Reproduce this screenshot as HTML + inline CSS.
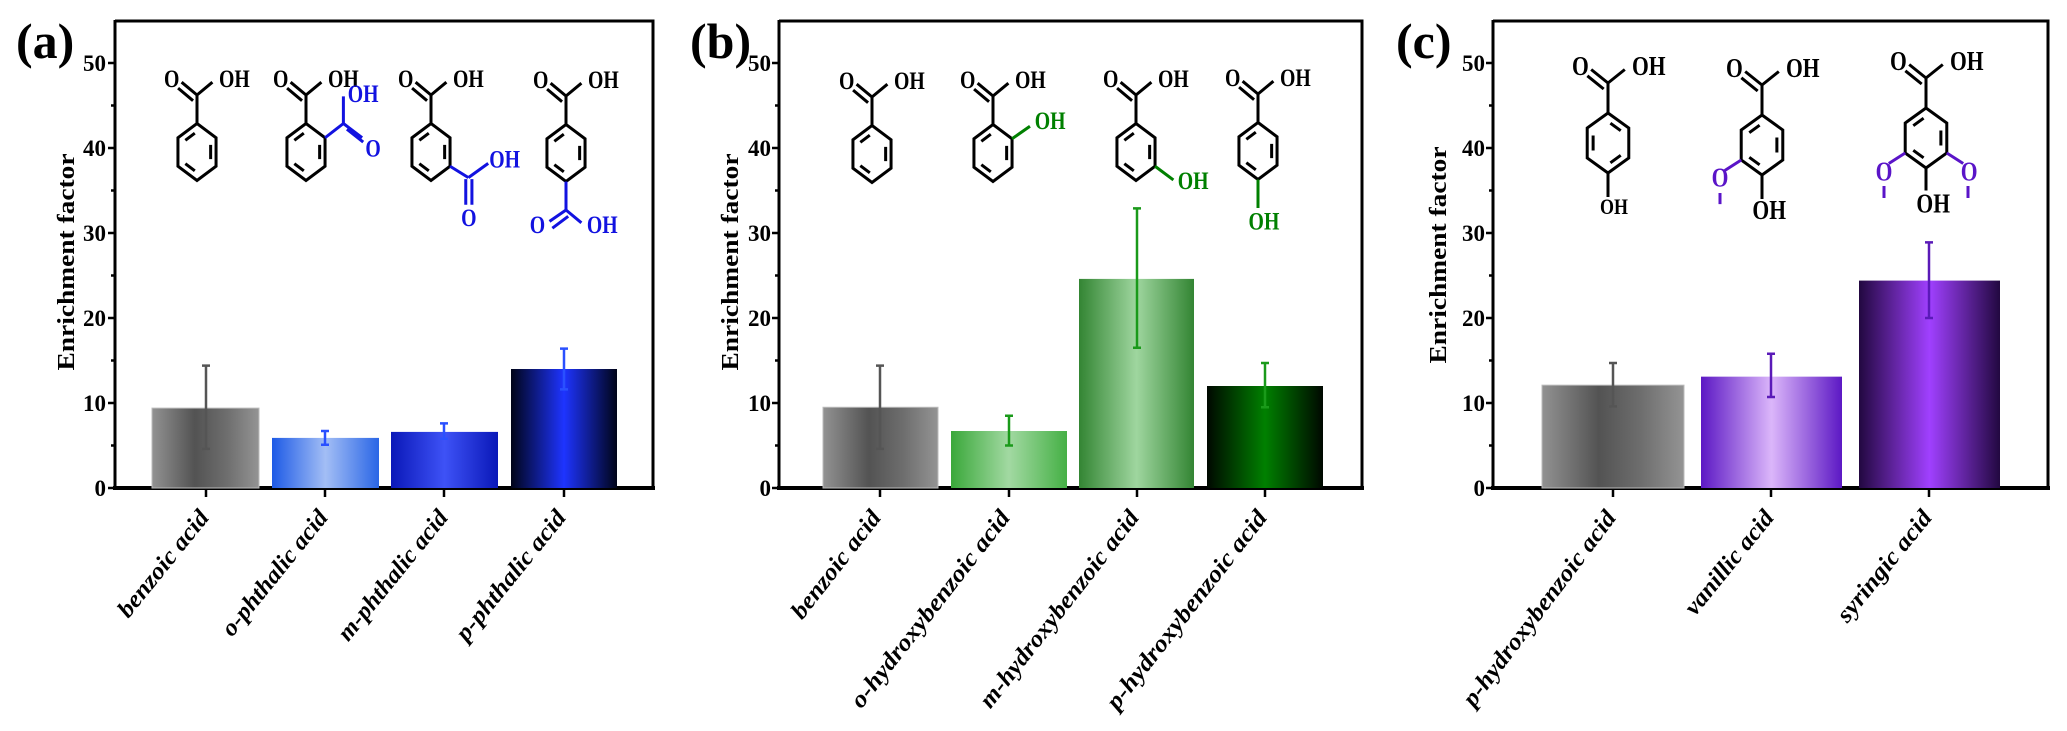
<!DOCTYPE html>
<html><head><meta charset="utf-8"><style>
html,body{margin:0;padding:0;background:#fff;}
svg{display:block;}
.m path,.m line{fill:none;stroke-width:3;vector-effect:non-scaling-stroke;stroke-linejoin:miter;}
.m text{font-family:"Liberation Serif",serif;font-weight:bold;font-size:.9px;text-anchor:middle;}
.ax{stroke:#000;fill:none;}
.tl{font-family:"Liberation Serif",serif;font-weight:bold;font-size:23px;text-anchor:end;}
.yl{font-family:"Liberation Serif",serif;font-weight:bold;font-size:24px;text-anchor:middle;}
.xl{font-family:"Liberation Serif",serif;font-weight:bold;font-style:italic;font-size:24px;text-anchor:end;}
.pl{font-family:"Liberation Serif",serif;font-weight:bold;font-size:50px;}
</style></head><body>
<svg width="2067" height="731" viewBox="0 0 2067 731" xmlns="http://www.w3.org/2000/svg">
<defs>
<linearGradient id="gGray"><stop offset="0" stop-color="#929292"/><stop offset=".4" stop-color="#535353"/><stop offset=".7" stop-color="#6e6e6e"/><stop offset="1" stop-color="#949494"/></linearGradient>
<linearGradient id="gB1"><stop offset="0" stop-color="#1d5ae6"/><stop offset=".5" stop-color="#a3bef5"/><stop offset="1" stop-color="#2a66e6"/></linearGradient>
<linearGradient id="gB2"><stop offset="0" stop-color="#0a18b8"/><stop offset=".5" stop-color="#3e52f6"/><stop offset="1" stop-color="#0a18b8"/></linearGradient>
<linearGradient id="gB3"><stop offset="0" stop-color="#000418"/><stop offset=".5" stop-color="#1e34ff"/><stop offset="1" stop-color="#000418"/></linearGradient>
<linearGradient id="gG1"><stop offset="0" stop-color="#3aa83a"/><stop offset=".5" stop-color="#a2d9a2"/><stop offset="1" stop-color="#45b045"/></linearGradient>
<linearGradient id="gG2"><stop offset="0" stop-color="#338533"/><stop offset=".5" stop-color="#9fd69f"/><stop offset="1" stop-color="#338533"/></linearGradient>
<linearGradient id="gG3"><stop offset="0" stop-color="#000800"/><stop offset=".5" stop-color="#008000"/><stop offset="1" stop-color="#000800"/></linearGradient>
<linearGradient id="gP1"><stop offset="0" stop-color="#5c18c4"/><stop offset=".5" stop-color="#dbb6fa"/><stop offset="1" stop-color="#5c18c4"/></linearGradient>
<linearGradient id="gP2"><stop offset="0" stop-color="#220840"/><stop offset=".5" stop-color="#a040ff"/><stop offset="1" stop-color="#220840"/></linearGradient>
</defs>

<text class="pl" x="16" y="58">(a)</text>
<text class="pl" x="690" y="58">(b)</text>
<text class="pl" x="1396" y="58">(c)</text>

<!-- ===== Panel A axes ===== -->
<g>
<path class="ax" stroke-width="3" d="M115,21 L653,21 L653,488"/>
<path class="ax" stroke-width="3" d="M115,20 L115,490"/>
<path class="ax" stroke-width="4" d="M113,488 L655,488"/>
<path class="ax" stroke-width="2.5" d="M108,63H115M108,148H115M108,233H115M108,318H115M108,403H115M108,488H115M111,105.5H115M111,190.5H115M111,275.5H115M111,360.5H115M111,445.5H115"/>
<g class="tl"><text x="106" y="71">50</text><text x="106" y="156">40</text><text x="106" y="241">30</text><text x="106" y="326">20</text><text x="106" y="411">10</text><text x="106" y="496">0</text></g>
<text class="yl" transform="translate(74,262) rotate(-90)" textLength="217" lengthAdjust="spacingAndGlyphs">Enrichment factor</text>
<path class="ax" stroke-width="2.5" d="M206,488V497M325,488V497M444,488V497M564,488V497"/>
<rect x="152" y="408.1" width="107" height="79.9" fill="url(#gGray)" stroke="#bbb" stroke-width="1"/>
<rect x="272" y="437.9" width="107" height="50.1" fill="url(#gB1)"/>
<rect x="391" y="431.9" width="107" height="56.1" fill="url(#gB2)"/>
<rect x="511" y="369" width="106" height="119" fill="url(#gB3)"/>
<g stroke-width="2.5">
<path stroke="#555" d="M206,365.6V448.9M202,365.6H210M202,448.9H210"/>
<path stroke="#2a50ff" d="M325,431V444.7M321,431H329M321,444.7H329"/>
<path stroke="#2a50ff" d="M444,423.4V438.7M440,423.4H448M440,438.7H448"/>
<path stroke="#2a50ff" d="M564,348.6V389.4M560,348.6H568M560,389.4H568"/>
</g>
<g class="xl">
<text transform="translate(210,518) rotate(-51)" textLength="130" lengthAdjust="spacingAndGlyphs">benzoic acid</text>
<text transform="translate(329,518) rotate(-51)" textLength="154" lengthAdjust="spacingAndGlyphs">o-phthalic acid</text>
<text transform="translate(449,518) rotate(-51)" textLength="160" lengthAdjust="spacingAndGlyphs">m-phthalic acid</text>
<text transform="translate(567,518) rotate(-51)" textLength="160" lengthAdjust="spacingAndGlyphs">p-phthalic acid</text>
</g>
</g>

<!-- ===== Panel B axes ===== -->
<g>
<path class="ax" stroke-width="3" d="M779,21 L1362,21 L1362,488"/>
<path class="ax" stroke-width="3" d="M779,20 L779,490"/>
<path class="ax" stroke-width="4" d="M777,488 L1364,488"/>
<path class="ax" stroke-width="2.5" d="M772,63H779M772,148H779M772,233H779M772,318H779M772,403H779M772,488H779M775,105.5H779M775,190.5H779M775,275.5H779M775,360.5H779M775,445.5H779"/>
<g class="tl"><text x="771" y="71">50</text><text x="771" y="156">40</text><text x="771" y="241">30</text><text x="771" y="326">20</text><text x="771" y="411">10</text><text x="771" y="496">0</text></g>
<text class="yl" transform="translate(738,262) rotate(-90)" textLength="217" lengthAdjust="spacingAndGlyphs">Enrichment factor</text>
<path class="ax" stroke-width="2.5" d="M880,488V497M1009,488V497M1137,488V497M1265,488V497"/>
<rect x="823" y="407.25" width="115" height="80.75" fill="url(#gGray)" stroke="#bbb" stroke-width="1"/>
<rect x="951" y="431" width="116" height="57" fill="url(#gG1)"/>
<rect x="1079" y="278.9" width="115" height="209.1" fill="url(#gG2)"/>
<rect x="1207" y="386" width="116" height="102" fill="url(#gG3)"/>
<g stroke-width="2.5">
<path stroke="#555" d="M880,365.6V448.9M876,365.6H884M876,448.9H884"/>
<path stroke="#1a9a1a" d="M1009,415.75V445.5M1005,415.75H1013M1005,445.5H1013"/>
<path stroke="#1a9a1a" d="M1137,208.35V347.75M1133,208.35H1141M1133,347.75H1141"/>
<path stroke="#1a9a1a" d="M1265,363V407.25M1261,363H1269M1261,407.25H1269"/>
</g>
<g class="xl">
<text transform="translate(882,518) rotate(-52)" textLength="130" lengthAdjust="spacingAndGlyphs">benzoic acid</text>
<text transform="translate(1011,518) rotate(-52)" textLength="243" lengthAdjust="spacingAndGlyphs">o-hydroxybenzoic acid</text>
<text transform="translate(1140,518) rotate(-52)" textLength="243" lengthAdjust="spacingAndGlyphs">m-hydroxybenzoic acid</text>
<text transform="translate(1268,518) rotate(-52)" textLength="245" lengthAdjust="spacingAndGlyphs">p-hydroxybenzoic acid</text>
</g>
</g>

<!-- ===== Panel C axes ===== -->
<g>
<path class="ax" stroke-width="3" d="M1493,21 L2048,21 L2048,488"/>
<path class="ax" stroke-width="3" d="M1493,20 L1493,490"/>
<path class="ax" stroke-width="4" d="M1491,488 L2050,488"/>
<path class="ax" stroke-width="2.5" d="M1486,63H1493M1486,148H1493M1486,233H1493M1486,318H1493M1486,403H1493M1486,488H1493M1489,105.5H1493M1489,190.5H1493M1489,275.5H1493M1489,360.5H1493M1489,445.5H1493"/>
<g class="tl"><text x="1485" y="71">50</text><text x="1485" y="156">40</text><text x="1485" y="241">30</text><text x="1485" y="326">20</text><text x="1485" y="411">10</text><text x="1485" y="496">0</text></g>
<text class="yl" transform="translate(1446,255) rotate(-90)" textLength="217" lengthAdjust="spacingAndGlyphs">Enrichment factor</text>
<path class="ax" stroke-width="2.5" d="M1613,488V497M1771,488V497M1929,488V497"/>
<rect x="1542" y="385.15" width="142" height="102.85" fill="url(#gGray)" stroke="#bbb" stroke-width="1"/>
<rect x="1701" y="376.65" width="141" height="111.35" fill="url(#gP1)"/>
<rect x="1859" y="280.6" width="141" height="207.4" fill="url(#gP2)"/>
<g stroke-width="2.5">
<path stroke="#555" d="M1613,363V406.4M1609,363H1617M1609,406.4H1617"/>
<path stroke="#5a1ab8" d="M1771,353.7V397M1767,353.7H1775M1767,397H1775"/>
<path stroke="#5a1ab8" d="M1929,242.35V318M1925,242.35H1933M1925,318H1933"/>
</g>
<g class="xl">
<text transform="translate(1617,518) rotate(-53)" textLength="238" lengthAdjust="spacingAndGlyphs">p-hydroxybenzoic acid</text>
<text transform="translate(1775,518) rotate(-51)" textLength="127" lengthAdjust="spacingAndGlyphs">vanillic acid</text>
<text transform="translate(1933,518) rotate(-51)" textLength="136" lengthAdjust="spacingAndGlyphs">syringic acid</text>
</g>
</g>

<!-- ===== Molecules ===== -->
<g class="m" transform="translate(197,152) scale(22,28.5)">
<path stroke="#000" d="M0,-1L.866,-.5L.866,.5L0,1L-.866,.5L-.866,-.5Z M-.1,-.66L-.53,-.41 M.62,-.25L.62,.25 M-.53,.41L-.1,.66 M0,-1L0,-2 M0,-2L-.7,-2.45 M-.18,-1.8L-.86,-2.24 M0,-2L.7,-2.45"/>
<text x="-1.15" y="-2.28">O</text><text x="1.7" y="-2.28">OH</text>
</g>
<g class="m" transform="translate(306,152) scale(22,28.5)">
<path stroke="#000" d="M0,-1L.866,-.5L.866,.5L0,1L-.866,.5L-.866,-.5Z M-.1,-.66L-.53,-.41 M.62,-.25L.62,.25 M-.53,.41L-.1,.66 M0,-1L0,-2 M0,-2L-.7,-2.45 M-.18,-1.8L-.86,-2.24 M0,-2L.7,-2.45"/>
<text x="-1.15" y="-2.28">O</text><text x="1.7" y="-2.28">OH</text>
<path stroke="#1212e0" d="M.866,-.5L1.7,-1 M1.7,-1L1.7,-1.95 M1.7,-1L2.55,-.5 M1.86,-.8L2.6,-.35"/>
<text fill="#1212e0" x="2.6" y="-1.75">OH</text><text fill="#1212e0" x="3.05" y=".15">O</text>
</g>
<g class="m" transform="translate(431,152) scale(22,28.5)">
<path stroke="#000" d="M0,-1L.866,-.5L.866,.5L0,1L-.866,.5L-.866,-.5Z M-.1,-.66L-.53,-.41 M.62,-.25L.62,.25 M-.53,.41L-.1,.66 M0,-1L0,-2 M0,-2L-.7,-2.45 M-.18,-1.8L-.86,-2.24 M0,-2L.7,-2.45"/>
<text x="-1.15" y="-2.28">O</text><text x="1.7" y="-2.28">OH</text>
<path stroke="#1212e0" d="M.866,.5L1.7,.9 M1.7,.9L2.6,.4 M1.58,.95L1.58,1.85 M1.86,.95L1.86,1.85"/>
<text fill="#1212e0" x="3.35" y=".55">OH</text><text fill="#1212e0" x="1.72" y="2.6">O</text>
</g>
<g class="m" transform="translate(566,153) scale(22,28.5)">
<path stroke="#000" d="M0,-1L.866,-.5L.866,.5L0,1L-.866,.5L-.866,-.5Z M-.1,-.66L-.53,-.41 M.62,-.25L.62,.25 M-.53,.41L-.1,.66 M0,-1L0,-2 M0,-2L-.7,-2.45 M-.18,-1.8L-.86,-2.24 M0,-2L.7,-2.45"/>
<text x="-1.15" y="-2.28">O</text><text x="1.7" y="-2.28">OH</text>
<path stroke="#1212e0" d="M0,1L0,2 M0,2L.7,2.45 M0,2L-.75,2.4 M.1,2.22L-.62,2.64"/>
<text fill="#1212e0" x="-1.3" y="2.8">O</text><text fill="#1212e0" x="1.65" y="2.8">OH</text>
</g>

<g class="m" transform="translate(872,154) scale(22,28.5)">
<path stroke="#000" d="M0,-1L.866,-.5L.866,.5L0,1L-.866,.5L-.866,-.5Z M-.1,-.66L-.53,-.41 M.62,-.25L.62,.25 M-.53,.41L-.1,.66 M0,-1L0,-2 M0,-2L-.7,-2.45 M-.18,-1.8L-.86,-2.24 M0,-2L.7,-2.45"/>
<text x="-1.15" y="-2.28">O</text><text x="1.7" y="-2.28">OH</text>
</g>
<g class="m" transform="translate(993,153) scale(22,28.5)">
<path stroke="#000" d="M0,-1L.866,-.5L.866,.5L0,1L-.866,.5L-.866,-.5Z M-.1,-.66L-.53,-.41 M.62,-.25L.62,.25 M-.53,.41L-.1,.66 M0,-1L0,-2 M0,-2L-.7,-2.45 M-.18,-1.8L-.86,-2.24 M0,-2L.7,-2.45"/>
<text x="-1.15" y="-2.28">O</text><text x="1.7" y="-2.28">OH</text>
<path stroke="#008000" d="M.866,-.5L1.68,-.94"/>
<text fill="#008000" x="2.6" y="-.85">OH</text>
</g>
<g class="m" transform="translate(1136,152) scale(22,28.5)">
<path stroke="#000" d="M0,-1L.866,-.5L.866,.5L0,1L-.866,.5L-.866,-.5Z M-.1,-.66L-.53,-.41 M.62,-.25L.62,.25 M-.53,.41L-.1,.66 M0,-1L0,-2 M0,-2L-.7,-2.45 M-.18,-1.8L-.86,-2.24 M0,-2L.7,-2.45"/>
<text x="-1.15" y="-2.28">O</text><text x="1.7" y="-2.28">OH</text>
<path stroke="#008000" d="M.866,.5L1.7,.98"/>
<text fill="#008000" x="2.6" y="1.3">OH</text>
</g>
<g class="m" transform="translate(1258,151) scale(22,28.5)">
<path stroke="#000" d="M0,-1L.866,-.5L.866,.5L0,1L-.866,.5L-.866,-.5Z M-.1,-.66L-.53,-.41 M.62,-.25L.62,.25 M-.53,.41L-.1,.66 M0,-1L0,-2 M0,-2L-.7,-2.45 M-.18,-1.8L-.86,-2.24 M0,-2L.7,-2.45"/>
<text x="-1.15" y="-2.28">O</text><text x="1.7" y="-2.28">OH</text>
<path stroke="#008000" d="M0,1L0,2.0"/>
<text fill="#008000" x=".27" y="2.75">OH</text>
</g>

<g class="m" transform="translate(1608,143) scale(24,30)">
<path stroke="#000" d="M0,-1L.866,-.5L.866,.5L0,1L-.866,.5L-.866,-.5Z M.1,-.66L.53,-.41 M-.62,-.25L-.62,.25 M.53,.41L.1,.66 M0,-1L0,-2 M0,-2L-.7,-2.45 M-.18,-1.8L-.86,-2.24 M0,-2L.7,-2.45 M0,1L0,1.8"/>
<text x="-1.15" y="-2.27">O</text><text x="1.7" y="-2.27">OH</text>
<text x=".25" y="2.36" style="font-size:.75px">OH</text>
</g>
<g class="m" transform="translate(1762,145) scale(24,30)">
<path stroke="#000" d="M0,-1L.866,-.5L.866,.5L0,1L-.866,.5L-.866,-.5Z M-.1,-.66L-.53,-.41 M.62,-.25L.62,.25 M-.53,.41L-.1,.66 M0,-1L0,-2 M0,-2L-.7,-2.45 M-.18,-1.8L-.86,-2.24 M0,-2L.7,-2.45 M0,1L0,1.8"/>
<text x="-1.15" y="-2.27">O</text><text x="1.7" y="-2.27">OH</text>
<path stroke="#5a14c8" d="M-.866,.5L-1.55,.85 M-1.75,1.6L-1.75,1.97"/>
<text fill="#5a14c8" x="-1.75" y="1.38">O</text>
<text x=".3" y="2.46">OH</text>
</g>
<g class="m" transform="translate(1926,138) scale(24,30)">
<path stroke="#000" d="M0,-1L.866,-.5L.866,.5L0,1L-.866,.5L-.866,-.5Z M-.1,-.66L-.53,-.41 M.62,-.25L.62,.25 M-.53,.41L-.1,.66 M0,-1L0,-2 M0,-2L-.7,-2.45 M-.18,-1.8L-.86,-2.24 M0,-2L.7,-2.45 M0,1L0,1.75"/>
<text x="-1.15" y="-2.27">O</text><text x="1.7" y="-2.27">OH</text>
<path stroke="#5a14c8" d="M-.866,.5L-1.55,.85 M.866,.5L1.55,.85 M-1.75,1.6L-1.75,2.0 M1.75,1.6L1.75,2.0"/>
<text fill="#5a14c8" x="-1.75" y="1.42">O</text><text fill="#5a14c8" x="1.8" y="1.42">O</text>
<text x=".3" y="2.48">OH</text>
</g>
</svg>
</body></html>
